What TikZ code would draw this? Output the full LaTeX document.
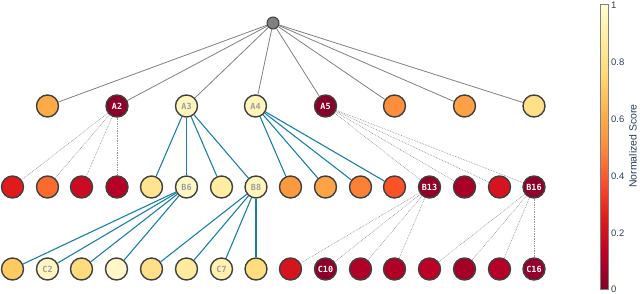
\documentclass[tikz,border=0pt]{standalone}
\usepackage{fontspec}
\setmainfont{Liberation Sans}
\newfontfamily\lblfont{DejaVu Sans Mono}
\usetikzlibrary{backgrounds}
\definecolor{cbtext}{HTML}{2A3F5F}
\definecolor{edgeblue}{HTML}{1B80A9}
\definecolor{ys0}{HTML}{800026}
\definecolor{ys1}{HTML}{BD0026}
\definecolor{ys2}{HTML}{E31A1C}
\definecolor{ys3}{HTML}{FC4E2A}
\definecolor{ys4}{HTML}{FD8D3C}
\definecolor{ys5}{HTML}{FEB24C}
\definecolor{ys6}{HTML}{FED976}
\definecolor{ys7}{HTML}{FFEDA0}
\definecolor{ys8}{HTML}{FFFFCC}
\begin{document}
\begin{tikzpicture}[x=1bp,y=-1bp,
  nd/.style={circle, draw=black!75, line width=1.4bp, minimum size=22bp, inner sep=0pt,
    font=\lblfont\bfseries\fontsize{8.5}{9}\selectfont},
  dk/.style={text=white},
  lt/.style={text=black!38},
  rootedge/.style={draw=black!50, line width=0.8bp},
  blueedge/.style={draw=edgeblue, line width=1.1bp},
  dotedge/.style={draw=black!40, densely dotted, line width=0.7bp},
  ticklbl/.style={anchor=west, text=cbtext, font=\fontsize{9.5}{10}\selectfont, inner sep=0pt}
]
\useasboundingbox (0,0) rectangle (640,293);

% root
\node[circle, draw=black!75, fill=black!50, line width=1bp, minimum size=12bp, inner sep=0pt] (r) at (273,23) {};

% level 1
\node[nd, fill={rgb,255:red,253;green,170;blue,72}] (a1) at (47.5,106) {};
\node[nd, dk, fill={rgb,255:red,142;green,0;blue,40}] (a2) at (117,106) {A2};
\node[nd, lt, fill={rgb,255:red,255;green,246;blue,190}] (a3) at (186.5,106) {A3};
\node[nd, lt, fill={rgb,255:red,255;green,245;blue,187}] (a4) at (255.5,106) {A4};
\node[nd, dk, fill={rgb,255:red,136;green,0;blue,39}] (a5) at (325.5,106) {A5};
\node[nd, fill={rgb,255:red,253;green,143;blue,60}] (a6) at (394.5,106) {};
\node[nd, fill={rgb,255:red,254;green,161;blue,70}] (a7) at (464.5,106) {};
\node[nd, fill={rgb,255:red,254;green,224;blue,135}] (a8) at (534,106) {};

% level 2
\node[nd, fill={rgb,255:red,227;green,26;blue,28}] (b1) at (12.5,187) {};
\node[nd, fill={rgb,255:red,252;green,106;blue,46}] (b2) at (47.5,187) {};
\node[nd, fill={rgb,255:red,203;green,11;blue,34}] (b3) at (81.5,187) {};
\node[nd, fill={rgb,255:red,184;green,0;blue,38}] (b4) at (117,187) {};
\node[nd, fill={rgb,255:red,254;green,227;blue,145}] (b5) at (151.5,187) {};
\node[nd, lt, fill={rgb,255:red,255;green,247;blue,196}] (b6) at (186.5,187) {B6};
\node[nd, fill={rgb,255:red,255;green,238;blue,160}] (b7) at (221.5,187) {};
\node[nd, lt, fill={rgb,255:red,255;green,246;blue,188}] (b8) at (256,187) {B8};
\node[nd, fill={rgb,255:red,253;green,154;blue,64}] (b9) at (290.5,187) {};
\node[nd, fill={rgb,255:red,254;green,164;blue,70}] (b10) at (325.5,187) {};
\node[nd, fill={rgb,255:red,253;green,129;blue,52}] (b11) at (360.5,187) {};
\node[nd, fill={rgb,255:red,252;green,82;blue,40}] (b12) at (394.5,187) {};
\node[nd, dk, fill={rgb,255:red,146;green,0;blue,38}] (b13) at (429.5,187) {B13};
\node[nd, fill={rgb,255:red,169;green,0;blue,38}] (b14) at (464.5,187) {};
\node[nd, fill={rgb,255:red,215;green,19;blue,31}] (b15) at (499.5,187) {};
\node[nd, dk, fill={rgb,255:red,142;green,0;blue,40}] (b16) at (534,187) {B16};

% level 3
\node[nd, fill={rgb,255:red,254;green,203;blue,99}] (c1) at (12.5,269) {};
\node[nd, lt, fill={rgb,255:red,255;green,246;blue,193}] (c2) at (47.5,269) {C2};
\node[nd, fill={rgb,255:red,254;green,219;blue,124}] (c3) at (81.5,269) {};
\node[nd, fill={rgb,255:red,255;green,247;blue,200}] (c4) at (116.5,269) {};
\node[nd, fill={rgb,255:red,254;green,224;blue,136}] (c5) at (151.5,269) {};
\node[nd, fill={rgb,255:red,255;green,235;blue,160}] (c6) at (186.5,269) {};
\node[nd, lt, fill={rgb,255:red,255;green,242;blue,176}] (c7) at (221.5,269) {C7};
\node[nd, fill={rgb,255:red,254;green,221;blue,126}] (c8) at (256,269) {};
\node[nd, fill={rgb,255:red,215;green,20;blue,30}] (c9) at (290.5,269) {};
\node[nd, dk, fill={rgb,255:red,143;green,0;blue,41}] (c10) at (325.5,269) {C10};
\node[nd, fill={rgb,255:red,177;green,0;blue,38}] (c11) at (360.5,269) {};
\node[nd, fill={rgb,255:red,177;green,0;blue,38}] (c12) at (394.5,269) {};
\node[nd, fill={rgb,255:red,189;green,0;blue,38}] (c13) at (429.5,269) {};
\node[nd, fill={rgb,255:red,165;green,0;blue,38}] (c14) at (464.5,269) {};
\node[nd, fill={rgb,255:red,183;green,0;blue,38}] (c15) at (499.5,269) {};
\node[nd, dk, fill={rgb,255:red,149;green,0;blue,42}] (c16) at (534,269) {C16};

\begin{pgfonlayer}{background}
\foreach \i in {1,...,8} \draw[rootedge] (r) -- (a\i);
\foreach \i in {1,...,4} \draw[dotedge] (a2) -- (b\i);
\foreach \i in {5,...,8} \draw[blueedge] (a3) -- (b\i);
\foreach \i in {9,...,12} \draw[blueedge] (a4) -- (b\i);
\foreach \i in {13,...,16} \draw[dotedge] (a5) -- (b\i);
\foreach \i in {1,...,4} \draw[blueedge] (b6) -- (c\i);
\foreach \i in {5,...,8} \draw[blueedge] (b8) -- (c\i);
\foreach \i in {9,...,12} \draw[dotedge] (b13) -- (c\i);
\foreach \i in {13,...,16} \draw[dotedge] (b16) -- (c\i);
\end{pgfonlayer}

% colorbar
\foreach \k [evaluate=\k as \kn using int(\k+1)] in {0,...,7} {
  \shade[bottom color=ys\k, top color=ys\kn]
    (600,{289-35.625*\k}) rectangle (608,{289-35.625*(\k+1)});
}
\draw[black!50, line width=0.6bp] (600,4) rectangle (608,289);
\node[ticklbl] (t1) at (611,5) {1};
\node[ticklbl] (t08) at (611,62) {0.8};
\node[ticklbl] (t06) at (611,119) {0.6};
\node[ticklbl] (t04) at (611,176) {0.4};
\node[ticklbl] (t02) at (611,233) {0.2};
\node[ticklbl] (t0) at (611,289) {0};
\node[rotate=90, text=cbtext, font=\fontsize{10.5}{12}\selectfont, inner sep=0pt] (cbl) at (633,146) {Normalized Score};
\end{tikzpicture}
\end{document}
